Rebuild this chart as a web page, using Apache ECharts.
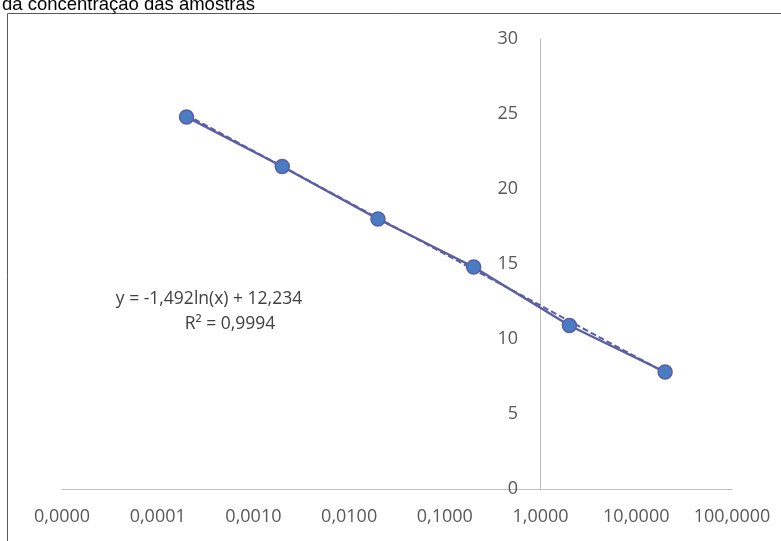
<!DOCTYPE html>
<html>
<head>
<meta charset="utf-8">
<script src="https://cdn.jsdelivr.net/npm/echarts@6/dist/echarts.min.js"></script>
<style>
  html, body { margin: 0; padding: 0; background: #ffffff; }
  #main { width: 781px; height: 541px; }
</style>
</head>
<body>
<div id="main"></div>
<script>
// concentration (log scale) vs Ct
const concentrations = [0.0002, 0.002, 0.02, 0.2, 2, 20];
const ctValues = [24.8, 21.5, 18.0, 14.8, 10.9, 7.8];

// dashed logarithmic trendline, end points
const trendX = [0.0002, 20];
const trendY = [24.94, 7.76];

const equationText = 'y = -1,492ln(x) + 12,234';
const r2Text = 'R² = 0,9994';
const titleText = 'da concentração das amostras';

const chartDom = document.getElementById('main');
const myChart = echarts.init(chartDom);

const fmt = v => Number(v).toFixed(4).replace('.', ',');

const option = {
  animation: false,
  grid: {
    left: 62,
    right: 49,
    top: 39,
    bottom: 52
  },
  xAxis: {
    type: 'log',
    logBase: 10,
    min: 0.00001,
    max: 100,
    axisLabel: {
      formatter: fmt,
      color: '#595959',
      fontFamily: 'Open Sans',
      fontSize: 18,
      margin: 19,
      showMinLabel: true,
      showMaxLabel: true
    },
    axisTick: { show: false },
    axisLine: {
      lineStyle: { color: '#BFBFBF', width: 1 }
    },
    splitLine: { show: false }
  },
  yAxis: {
    type: 'value',
    min: 0,
    max: 30,
    interval: 5,
    position: 'left',
    offset: -478,
    axisLabel: {
      color: '#595959',
      fontFamily: 'Open Sans',
      fontSize: 18,
      margin: 22
    },
    axisTick: { show: false },
    axisLine: {
      show: true,
      lineStyle: { color: '#BFBFBF', width: 1 }
    },
    splitLine: { show: false }
  },
  series: [
    {
      type: 'line',
      data: trendX.map((x, i) => [x, trendY[i]]),
      symbol: 'none',
      lineStyle: { color: '#5A5FA3', width: 2, type: [6, 3] },
      z: 2
    },
    {
      type: 'line',
      data: concentrations.map((x, i) => [x, ctValues[i]]),
      symbol: 'circle',
      symbolSize: 14,
      lineStyle: { color: '#5A5FA3', width: 2.5 },
      itemStyle: {
        color: '#4A7CC3',
        borderColor: '#5A5FA3',
        borderWidth: 1.5
      },
      z: 3
    }
  ],
  graphic: [
    {
      type: 'rect',
      shape: { x: 7.5, y: 13.5, width: 800, height: 600 },
      style: { fill: 'none', stroke: '#595959', lineWidth: 1 }
    },
    {
      type: 'text',
      left: 2,
      top: -5,
      style: {
        text: titleText,
        font: '18.5px "Liberation Sans"',
        fill: '#000000'
      }
    },
    {
      type: 'text',
      x: 209,
      y: 299,
      style: {
        text: equationText,
        font: '17.5px "Open Sans"',
        fill: '#404040',
        align: 'center',
        verticalAlign: 'middle'
      }
    },
    {
      type: 'text',
      x: 230,
      y: 324,
      style: {
        text: r2Text,
        font: '17.5px "Open Sans"',
        fill: '#404040',
        align: 'center',
        verticalAlign: 'middle'
      }
    }
  ]
};

myChart.setOption(option);
</script>
</body>
</html>
